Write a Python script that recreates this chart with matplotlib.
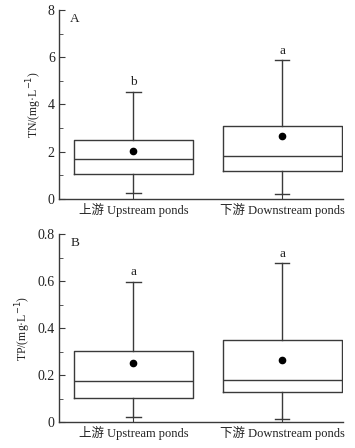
import matplotlib
matplotlib.use("Agg")
import matplotlib.pyplot as plt
from matplotlib.ticker import MultipleLocator, FormatStrFormatter

# fonts: serif for latin, CJK fallback for the Chinese characters
plt.rcParams['font.family'] = ['Liberation Serif', 'Noto Sans CJK SC']
plt.rcParams['font.size'] = 8

# Data
groups = ["上游 Upstream ponds", "下游 Downstream ponds"]
letters_tn = ["b", "a"]
letters_tp = ["a", "a"]

# TN (mg/L): whisker low, q1, median, q3, whisker high, mean
tn_low = [0.27, 0.21]
tn_q1 = [1.04, 1.17]
tn_med = [1.68, 1.81]
tn_q3 = [2.51, 3.08]
tn_high = [4.54, 5.88]
tn_mean = [2.05, 2.67]

# TP (mg/L)
tp_low = [0.024, 0.014]
tp_q1 = [0.102, 0.129]
tp_med = [0.174, 0.178]
tp_q3 = [0.304, 0.348]
tp_high = [0.597, 0.675]
tp_mean = [0.253, 0.263]

line_col = '#3a3a3a'
text_col = '#222222'


def make_stats(low, q1, med, q3, high, mean):
    stats = []
    for i in range(len(low)):
        stats.append(dict(whislo=low[i], q1=q1[i], med=med[i], q3=q3[i],
                          whishi=high[i], mean=mean[i], fliers=[]))
    return stats


def draw_panel(ax, stats, letters, ylim, major, minor, fmt, ylabel, tag):
    ax.bxp(stats, positions=[1, 2], widths=0.8, capwidths=0.1, showmeans=True,
           boxprops=dict(color=line_col, linewidth=1.0),
           whiskerprops=dict(color=line_col, linewidth=1.0),
           capprops=dict(color=line_col, linewidth=1.0),
           medianprops=dict(color=line_col, linewidth=1.0),
           meanprops=dict(marker='o', markerfacecolor='black',
                          markeredgecolor='black', markersize=4.5))
    ax.set_xlim(0.5, 2.41)
    ax.set_ylim(*ylim)
    ax.yaxis.set_major_locator(MultipleLocator(major))
    ax.yaxis.set_minor_locator(MultipleLocator(minor))
    ax.yaxis.set_major_formatter(fmt)
    ax.set_xticks([1, 2])
    ax.set_xticklabels(groups, fontsize=9, color=text_col)
    ax.tick_params(axis='both', which='both', direction='in', color=line_col,
                   labelcolor=text_col)
    ax.tick_params(axis='y', which='major', length=4, labelsize=10, pad=3)
    ax.tick_params(axis='y', which='minor', length=3)
    ax.tick_params(axis='x', length=4.5, pad=3)
    ax.spines['top'].set_visible(False)
    ax.spines['right'].set_visible(False)
    for s in ['left', 'bottom']:
        ax.spines[s].set_color(line_col)
        ax.spines[s].set_linewidth(1.0)
    ax.set_ylabel(ylabel, fontsize=8.5, color=text_col, labelpad=3)
    ax.text(0.04, 0.985, tag, transform=ax.transAxes, fontsize=9.5,
            color=text_col, va='top', ha='left')
    for i, st in enumerate(stats):
        ax.annotate(letters[i], (i + 1, st['whishi']), xytext=(0, 2.5),
                    textcoords='offset points', ha='center', va='bottom',
                    fontsize=9.5, color=text_col)


fig = plt.figure(figsize=(3.55, 4.48), dpi=100)
ax1 = fig.add_axes([59 / 355, 0.5558, 0.80, 0.4219])
ax2 = fig.add_axes([59 / 355, 0.0574, 0.80, 0.4203])

draw_panel(ax1, make_stats(tn_low, tn_q1, tn_med, tn_q3, tn_high, tn_mean),
           letters_tn, (0, 8), 2, 1, FormatStrFormatter('%g'),
           "TN/(mg·L$^{-1}$)", "A")
draw_panel(ax2, make_stats(tp_low, tp_q1, tp_med, tp_q3, tp_high, tp_mean),
           letters_tp, (0, 0.8), 0.2, 0.1, FormatStrFormatter('%g'),
           "TP/(mg·L$^{-1}$)", "B")

fig.savefig("out.png", dpi=100)
